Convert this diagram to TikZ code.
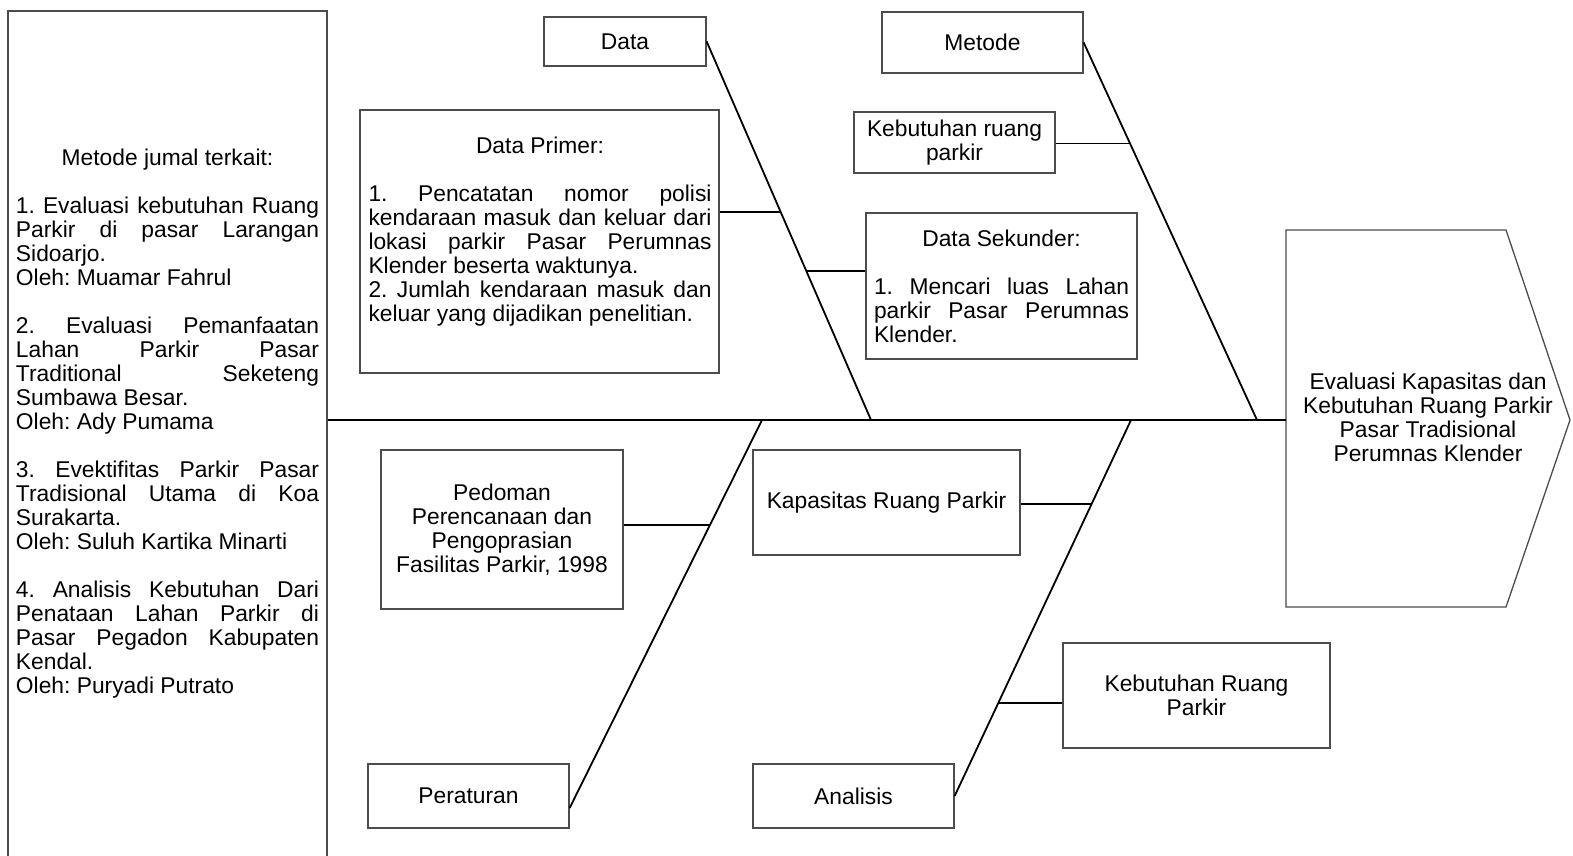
\documentclass[tikz,border=0pt]{standalone}
\usepackage{fontspec}
\setmainfont{Liberation Sans}
\usetikzlibrary{calc}
\setlength{\parindent}{0pt}
\tolerance=10000
\hyphenpenalty=10000
\frenchspacing

\begin{document}
\begin{tikzpicture}[x=1pt, y=-1pt,
  font=\fontsize{22.8}{24}\selectfont,
  garis/.style={draw=black!70, line width=1.3pt},
  box/.style={garis, align=center, inner sep=0pt},
  teks/.style={align=justify, inner sep=0pt, anchor=north},
  bone/.style={line width=1.8pt},
  twig/.style={line width=1.5pt}]
  \useasboundingbox (0,0) rectangle (1573,856);
  % kotak literatur
  \node[box, minimum width=319pt, minimum height=849pt] (lit) at (167.5,435.5) {};
  \node[teks, text width=303pt] (littxt) at (167.5,149) {%
    \leavevmode\centerline{Metode jumal terkait:}\\[24pt]
    1. Evaluasi kebutuhan Ruang\linebreak
    Parkir di pasar Larangan\linebreak
    Sidoarjo.\\
    Oleh: Muamar Fahrul\\[24pt]
    2. Evaluasi Pemanfaatan\linebreak
    Lahan Parkir Pasar\linebreak
    Traditional Seketeng\linebreak
    Sumbawa Besar.\\
    Oleh: Ady Pumama\\[24pt]
    3. Evektifitas Parkir Pasar\linebreak
    Tradisional Utama di Koa\linebreak
    Surakarta.\\
    Oleh: Suluh Kartika Minarti\\[24pt]
    4. Analisis Kebutuhan Dari\linebreak
    Penataan Lahan Parkir di\linebreak
    Pasar Pegadon Kabupaten\linebreak
    Kendal.\\
    Oleh: Puryadi Putrato};
  % kepala ikan
  \draw[garis] (1286,230) -- (1506,230) -- (1570,420) -- (1506,607) -- (1286,607) -- cycle;
  \node[align=center, inner sep=0pt] (goal) at (1428,417)
    {Evaluasi Kapasitas dan\\Kebutuhan Ruang Parkir\\Pasar Tradisional\\Perumnas Klender};
  % kategori
  \node[box, minimum width=162pt, minimum height=49pt] (data) at (625,41.5) {Data};
  \node[box, minimum width=201pt, minimum height=61pt] (metode) at (982.5,42.5) {Metode};
  \node[box, minimum width=201pt, minimum height=64pt] (per) at (468.5,796) {Peraturan};
  \node[box, minimum width=201pt, minimum height=64pt] (ana) at (853.5,796) {Analisis};
  % sebab
  \node[box, minimum width=359pt, minimum height=263pt] (prim) at (539.5,241.5) {};
  \node[teks, text width=343pt] (primtxt) at (540,137) {%
    \leavevmode\centerline{Data Primer:}\\[24pt]
    1. Pencatatan nomor polisi\linebreak
    kendaraan masuk dan keluar dari\linebreak
    lokasi parkir Pasar Perumnas\linebreak
    Klender beserta waktunya.\\
    2. Jumlah kendaraan masuk dan\linebreak
    keluar yang dijadikan penelitian.};
  \node[box, minimum width=271pt, minimum height=146pt, text width=255pt, align=justify] (sek) at (1001.5,286) {%
    \leavevmode\centerline{Data Sekunder:}\\[24pt]
    1. Mencari luas Lahan\linebreak
    parkir Pasar Perumnas\linebreak
    Klender.};
  \node[box, minimum width=201pt, minimum height=61pt] (kebA) at (954.5,142.5) {Kebutuhan ruang\\parkir};
  \node[box, minimum width=242pt, minimum height=159pt] (pedoman) at (502,529.5)
    {Pedoman\\Perencanaan dan\\Pengoprasian\\Fasilitas Parkir, 1998};
  \node[box, minimum width=267pt, minimum height=105pt] (kap) at (886.5,502.5) {Kapasitas Ruang Parkir};
  \node[box, minimum width=267pt, minimum height=105pt] (kebB) at (1196.5,695.5) {Kebutuhan Ruang\\Parkir};
  % tulang
  \coordinate (head) at (1286,420);
  \coordinate (jd) at (871,420);
  \coordinate (jm) at (1257,420);
  \coordinate (jp) at (762,420);
  \coordinate (ja) at (1131,420);
  \draw[bone] (lit.east |- head) -- (head);
  \draw[bone] (data.east) -- (jd);
  \draw[bone] (metode.east) -- (jm);
  \draw[bone] ([yshift=-12pt]per.east) -- (jp);
  \draw[bone] (ana.east) -- (ja);
  \coordinate (d1) at ($(data.east)!0.45!(jd)$);
  \coordinate (d2) at ($(data.east)!0.606!(jd)$);
  \coordinate (m1) at ($(metode.east)!0.267!(jm)$);
  \coordinate (p1) at ($([yshift=-12pt]per.east)!0.729!(jp)$);
  \coordinate (a1) at ($(ana.east)!0.777!(ja)$);
  \coordinate (a2) at ($(ana.east)!0.247!(ja)$);
  \draw[twig] (d1 -| prim.east) -- (d1);
  \draw[twig] (d2 -| sek.west) -- (d2);
  \draw[twig] (m1 -| kebA.east) -- (m1);
  \draw[twig] (p1 -| pedoman.east) -- (p1);
  \draw[twig] (a1 -| kap.east) -- (a1);
  \draw[twig] (a2 -| kebB.west) -- (a2);
\end{tikzpicture}
\end{document}
